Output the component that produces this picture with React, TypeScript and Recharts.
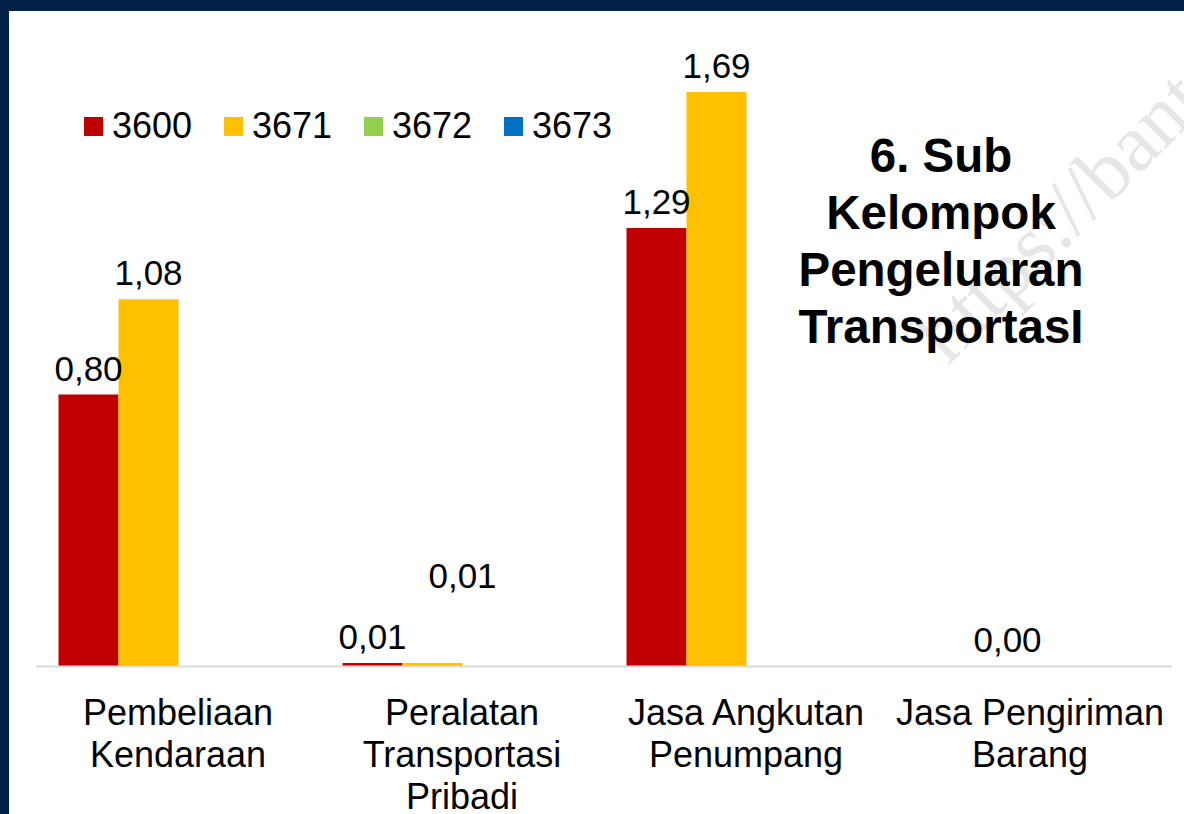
import { BarChart, Bar, XAxis, YAxis, Legend, LabelList } from 'recharts'

const categories = [
  'Pembeliaan\nKendaraan',
  'Peralatan\nTransportasi\nPribadi',
  'Jasa Angkutan\nPenumpang',
  'Jasa Pengiriman\nBarang',
]
const s3600 = [0.8, 0.01, 1.29, null]
const s3671 = [1.08, 0.01, 1.69, 0.0]
const s3672 = [0, 0, 0, 0]
const s3673 = [0, 0, 0, 0]
const titleLines = ['6. Sub', 'Kelompok', 'Pengeluaran', 'TransportasI']

const data = categories.map((name, i) => ({
  name,
  '3600': s3600[i],
  '3671': s3671[i],
  '3672': s3672[i],
  '3673': s3673[i],
}))

const FONT = '"Liberation Sans", Arial, sans-serif'
const NAVY = '#022149'

const fmt = (v: number) => v.toFixed(2).replace('.', ',')

// hand-moved labels in the original, per category index
const labelShift3671: Record<number, [number, number]> = { 1: [30, -61], 3: [7, 0] }

const makeLabel = (shift: Record<number, [number, number]>) => (props: any) => {
  const { x, y, width, value, index } = props
  if (value === null || value === undefined) return null
  const [dx, dy] = shift[index] || [0, 0]
  return (
    <text
      x={x + width / 2 + dx}
      y={y - 14 + dy}
      textAnchor="middle"
      fontSize={35}
      fontFamily={FONT}
      fill="#000"
    >
      {fmt(Number(value))}
    </text>
  )
}

const CategoryTick = (props: any) => {
  const { x, y, payload } = props
  const lines = String(payload.value).split('\n')
  return (
    <text x={x} y={y} textAnchor="middle" fontSize={36} fontFamily={FONT} fill="#000">
      {lines.map((l, i) => (
        <tspan key={i} x={x} dy={i === 0 ? 56 : 42}>
          {l}
        </tspan>
      ))}
    </text>
  )
}

const LegendContent = (props: any) => {
  const { payload } = props
  return (
    <div style={{ display: 'flex', fontFamily: FONT, fontSize: 36, color: '#000' }}>
      {payload.map((p: any) => (
        <div key={p.value} style={{ display: 'flex', alignItems: 'center', width: 140 }}>
          <span style={{ width: 19, height: 19, background: p.color, marginRight: 9 }} />
          <span>{p.value}</span>
        </div>
      ))}
    </div>
  )
}

export default function App() {
  return (
    <div style={{ position: 'fixed', left: 0, top: 0, width: 1184, height: 814, background: NAVY, overflow: 'hidden' }}>
      <div style={{ position: 'absolute', left: 9, top: 11, width: 1175, height: 803, background: '#fff' }} />
      <svg width={1184} height={814} style={{ position: 'absolute', left: 0, top: 0 }}>
        <text
          x={948}
          y={366}
          transform="rotate(-45 948 366)"
          fontSize={82}
          fontFamily='"Liberation Serif", "Times New Roman", serif'
          fill="#e6e6e6"
        >
          https://bantenprov.bps.go.id
        </text>
      </svg>
      <div style={{ position: 'absolute', left: 0, top: 0 }}>
        <BarChart
          width={1184}
          height={814}
          data={data}
          margin={{ top: 54.5, right: 12, left: 36, bottom: 0 }}
          barCategoryGap={22.5}
          barGap={0}
        >
          <XAxis
            dataKey="name"
            height={147.5}
            axisLine={{ stroke: '#d9d9d9', strokeWidth: 2 }}
            tickLine={false}
            tickSize={0}
            tick={<CategoryTick />}
            interval={0}
          />
          <YAxis hide domain={[0, 1.8]} />
          <Legend
            layout="horizontal"
            verticalAlign="middle"
            align="center"
            content={<LegendContent />}
            wrapperStyle={{ top: 105, left: 84, width: 'auto', height: 'auto' }}
          />
          <Bar dataKey="3600" fill="#C00000" isAnimationActive={false}>
            <LabelList dataKey="3600" content={makeLabel({})} />
          </Bar>
          <Bar dataKey="3671" fill="#FFC000" minPointSize={0.01} isAnimationActive={false}>
            <LabelList dataKey="3671" content={makeLabel(labelShift3671)} />
          </Bar>
          <Bar dataKey="3672" fill="#92D050" isAnimationActive={false} />
          <Bar dataKey="3673" fill="#0070C0" isAnimationActive={false} />
        </BarChart>
      </div>
      <svg width={1184} height={814} style={{ position: 'absolute', left: 0, top: 0, pointerEvents: 'none' }}>
        <text textAnchor="middle" fontSize={47.5} fontWeight="bold" fontFamily={FONT} fill="#000">
          {titleLines.map((l, i) => (
            <tspan key={i} x={941} y={172 + i * 57}>
              {l}
            </tspan>
          ))}
        </text>
      </svg>
    </div>
  )
}
